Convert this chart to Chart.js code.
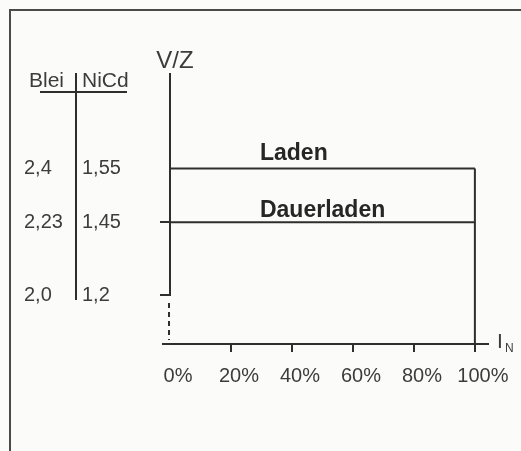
<!DOCTYPE html>
<html>
<head>
<meta charset="utf-8">
<script src="https://cdn.jsdelivr.net/npm/chart.js@4"></script>
<style>
  html, body { margin: 0; padding: 0; background: #fbfcfa; }
  canvas { display: block; }
</style>
</head>
<body>
<canvas id="c" width="521" height="451"></canvas>
<script>
// ---- data ----
const currentPct = [0, 100];            // I_N in %
const ladenV = [2.4, 2.4];              // Laden (Blei, V/Z)
const dauerladenV = [2.23, 2.23];       // Dauerladen (Blei, V/Z)
const endCurrent = [100, 100];          // right edge of the Laden region
const endV = [2.4, 1.8455];             // from Laden down to the axis
const xTickValues = [0, 20, 40, 60, 80, 100];
const bleiValues = [2.4, 2.23, 2.0];
const bleiLabels = ['2,4', '2,23', '2,0'];
const nicdLabels = ['1,55', '1,45', '1,2'];
const seriesNames = ['Laden', 'Dauerladen'];

const FONT = '"Liberation Sans", Arial, Helvetica, sans-serif';
const INK = '#2e2e2e';
const TXT = '#3c3c3c';
const Y_MIN = 1.8455, Y_MAX = 2.7017;

const toPts = (xs, ys) => xs.map((x, i) => ({ x: x, y: ys[i] }));

const deco = {
  id: 'deco',
  beforeDraw(chart) {
    const c = chart.ctx;
    c.save();
    c.fillStyle = '#fbfcfa';
    c.fillRect(0, 0, chart.width, chart.height);
    // frame
    c.strokeStyle = '#4a4a4a';
    c.lineWidth = 2;
    c.beginPath();
    c.moveTo(10, chart.height);
    c.lineTo(10, 10);
    c.lineTo(chart.width, 10);
    c.stroke();
    c.restore();
  },
  afterDraw(chart) {
    const c = chart.ctx;
    const xs = chart.scales.x, ys = chart.scales.y;
    const ca = chart.chartArea;
    const x0 = Math.round(xs.getPixelForValue(0));
    const y20 = Math.round(ys.getPixelForValue(2.0));
    c.save();
    // y axis: solid above 2,0 and dashed below
    c.strokeStyle = INK;
    c.lineWidth = 2;
    c.beginPath();
    c.moveTo(x0, ca.top);
    c.lineTo(x0, y20 + 1);
    c.stroke();
    c.setLineDash([5, 4]);
    c.beginPath();
    c.moveTo(x0 - 1, y20 + 8);
    c.lineTo(x0 - 1, ca.bottom - 4);
    c.stroke();
    c.setLineDash([]);

    // axis titles
    c.fillStyle = TXT;
    c.textBaseline = 'alphabetic';
    c.font = '24px ' + FONT;
    c.textAlign = 'center';
    c.fillText('V/Z', x0 + 5, ca.top - 5);
    c.textAlign = 'left';
    const xr = ca.right;
    const yb = Math.round(ca.bottom);
    c.font = '21px ' + FONT;
    c.fillText('I', xr + 9, yb + 4);
    c.font = '12px ' + FONT;
    c.fillText('N', xr + 17, yb + 8);

    // series labels
    c.fillStyle = '#262626';
    c.font = 'bold 23px ' + FONT;
    c.fillText(seriesNames[0], xs.getPixelForValue(29.5), ys.getPixelForValue(ladenV[0]) - 8);
    c.fillText(seriesNames[1], xs.getPixelForValue(29.5), ys.getPixelForValue(dauerladenV[0]) - 5);

    // left table Blei | NiCd
    c.fillStyle = TXT;
    c.font = '21px ' + FONT;
    c.fillText('Blei', 29, 87);
    c.fillText('NiCd', 82, 87);
    c.strokeStyle = INK;
    c.lineWidth = 2;
    c.beginPath();
    c.moveTo(40, 92); c.lineTo(127, 92);
    c.moveTo(76, 73); c.lineTo(76, 300);
    c.stroke();
    c.font = '20px ' + FONT;
    c.textBaseline = 'middle';
    bleiValues.forEach((v, i) => {
      const py = ys.getPixelForValue(v);
      c.fillText(bleiLabels[i], 24, py);
      c.fillText(nicdLabels[i], 82, py);
    });
    c.restore();
  }
};

new Chart(document.getElementById('c'), {
  type: 'line',
  data: {
    datasets: [
      { label: seriesNames[0], data: toPts(currentPct, ladenV) },
      { label: seriesNames[1], data: toPts(currentPct, dauerladenV) },
      { label: 'Grenze', data: toPts(endCurrent, endV) }
    ].map(d => Object.assign(d, {
      borderColor: INK, borderWidth: 2, pointRadius: 0, fill: false,
      tension: 0, clip: false
    }))
  },
  options: {
    responsive: false,
    animation: false,
    devicePixelRatio: 1,
    layout: { padding: { left: 163, right: 33, top: 73, bottom: 0 } },
    plugins: { legend: { display: false }, tooltip: { enabled: false } },
    scales: {
      x: {
        type: 'linear',
        min: -2.3, max: 104.3,
        afterBuildTicks: s => { s.ticks = xTickValues.map(v => ({ value: v })); },
        afterFit: s => { s.height = 107; },
        ticks: {
          callback: v => v + '%',
          color: TXT,
          font: { family: FONT, size: 20 },
          padding: 12,
          labelOffset: 8,
          maxRotation: 0,
          autoSkip: false
        },
        grid: {
          drawOnChartArea: false,
          drawTicks: true,
          tickLength: 8,
          lineWidth: 2,
          color: ctx => (ctx.tick && ctx.tick.value === 0) ? 'rgba(0,0,0,0)' : INK
        },
        border: { display: true, color: INK, width: 2 }
      },
      y: {
        type: 'linear',
        position: { x: 0 },
        min: Y_MIN, max: Y_MAX,
        afterBuildTicks: s => { s.ticks = bleiValues.map(v => ({ value: v })); },
        ticks: { display: false },
        grid: {
          drawOnChartArea: false,
          drawTicks: true,
          tickLength: 10,
          lineWidth: 2,
          color: ctx => (ctx.tick && ctx.tick.value === 2.4) ? 'rgba(0,0,0,0)' : INK
        },
        border: { display: false }
      }
    }
  },
  plugins: [deco]
});
</script>
</body>
</html>
